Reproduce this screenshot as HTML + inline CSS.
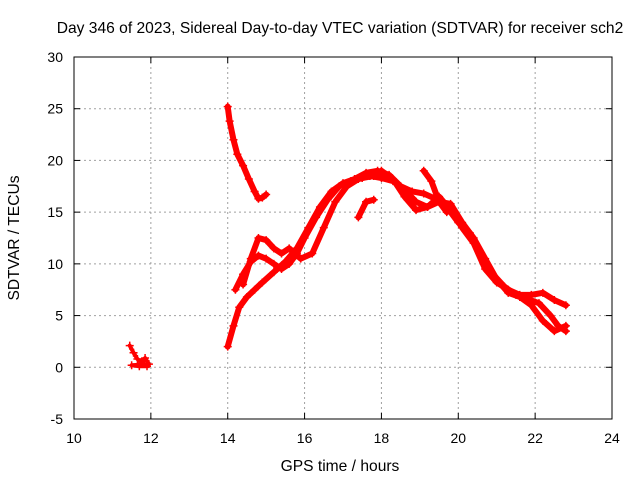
<!DOCTYPE html>
<html><head><meta charset="utf-8"><style>
body{margin:0;background:#fff;width:640px;height:480px;overflow:hidden}
svg{font-family:"Liberation Sans",sans-serif;font-size:14px}
</style></head><body>
<svg id="chart" width="640" height="480">
<text x="340" y="33" text-anchor="middle" style="font-size:15.6px">Day 346 of 2023, Sidereal Day-to-day VTEC variation (SDTVAR) for receiver sch2</text>
<text x="340" y="471" text-anchor="middle" style="font-size:15.6px">GPS time / hours</text>
<text transform="translate(19,238) rotate(-90)" text-anchor="middle" style="font-size:15.6px">SDTVAR / TECUs</text>
<g id="grid"></g><g id="ticks"></g><g id="marks"></g>
<rect x="74" y="57" width="538" height="362" fill="none" stroke="#000"/>
</svg>
<script>
const xTicks=[10,12,14,16,18,20,22,24];
const yTicks=[-5,0,5,10,15,20,25,30];
const track1X=[11.45,11.55,11.65,11.75,11.85,11.95,11.5,11.7,11.9];
const track1Y=[2.1,1.4,0.8,0.5,0.9,0.3,0.2,0.1,0.1];
const track2X=[14.0,14.05,14.15,14.25,14.4,14.55,14.7,14.8,14.9,15.0];
const track2Y=[25.2,23.8,22,20.6,19.5,18.2,17,16.3,16.4,16.7];
const track3X=[14.0,14.15,14.3,14.5,14.7,14.9,15.2,15.5,15.8,16.1,16.4,16.7,17.0,17.3,17.6,17.9,18.2,18.5,18.8,19.1,19.4,19.7,20.0,20.3,20.6,20.9,21.2,21.5,21.8,22.1,22.4,22.6,22.8];
const track3Y=[2,4,5.8,6.8,7.5,8.2,9.2,10.2,11.5,13.5,15.5,17,17.8,18.2,18.8,19,18.6,17.5,17,16.8,16.3,15.5,14,13,11,9,7.8,7,6.6,6.2,5,4,3.5];
const track4X=[14.2,14.4,14.6,14.8,15.0,15.2,15.4,15.6,15.8,16.0,16.3,16.6,16.9,17.2,17.5,17.8,18.0,18.3,18.6,18.9,19.2,19.5,19.8,20.1,20.4,20.7,21.0,21.3,21.6,21.9,22.2,22.5,22.8];
const track4Y=[7.5,9,10.2,10.8,10.5,10,9.5,10,11,12.5,14.5,16.2,17.5,18,18.3,18.5,19,18.2,16.5,15.2,15.5,16.5,15.2,13.5,12,9.5,8.2,7.5,7,7,7.2,6.5,6];
const track5X=[14.4,14.6,14.8,15.0,15.2,15.4,15.6,15.9,16.2,16.5,16.8,17.1,17.4,17.7,18.0,18.3,18.6,18.9,19.2,19.5,19.8,20.1,20.4,20.7,21.0,21.3,21.6,21.9,22.2,22.5,22.8];
const track5Y=[8,10.5,12.5,12.3,11.5,11,11.5,10.5,11,13.5,16,17.5,18.2,18.5,18.3,18,17.2,16,15.5,16,15.8,14,12.5,10.5,8.5,7.2,6.8,6,4.5,3.5,4];
const track6X=[17.4,17.6,17.8];
const track6Y=[14.5,16,16.2];
const track7X=[19.1,19.3,19.5,19.7];
const track7Y=[19,18,16,15];
const tracks=[[track1X,track1Y],[track2X,track2Y],[track3X,track3Y],[track4X,track4Y],[track5X,track5Y],[track6X,track6Y],[track7X,track7Y]];
const L=74,R=612,T=57,B=419;
const sx=v=>L+(v-10)/14*(R-L), sy=v=>B-(v+5)/35*(B-T);
const NS="http://www.w3.org/2000/svg";
const g=document.getElementById('grid'),tk=document.getElementById('ticks'),mk=document.getElementById('marks');
function mkEl(t,a,p){const e=document.createElementNS(NS,t);for(const k in a)e.setAttribute(k,a[k]);p.appendChild(e);return e;}
xTicks.forEach(v=>{const x=sx(v);
 if(v>10&&v<24){const l=mkEl('line',{x1:x,x2:x,y1:T,y2:B,stroke:'#a0a0a0','stroke-dasharray':'2,3'},g);
 
 }
 mkEl('line',{x1:x,x2:x,y1:B,y2:B-6,stroke:'#000'},tk);mkEl('line',{x1:x,x2:x,y1:T,y2:T+6,stroke:'#000'},tk);
 const t=mkEl('text',{x:x,y:B+24,'text-anchor':'middle'},tk);t.textContent=v;
 
 });
yTicks.forEach(v=>{const y=sy(v);
 if(v>-5&&v<30){const l=mkEl('line',{x1:L,x2:R,y1:y,y2:y,stroke:'#a0a0a0','stroke-dasharray':'2,3'},g);
 
 }
 mkEl('line',{x1:L,x2:L+6,y1:y,y2:y,stroke:'#000'},tk);mkEl('line',{x1:R,x2:R-6,y1:y,y2:y,stroke:'#000'},tk);
 const t=mkEl('text',{x:L-11,y:y+5,'text-anchor':'end'},tk);t.textContent=v;
 
 });
tracks.forEach(([xs,ys],i)=>{
 const pts=xs.map((x,j)=>sx(x)+','+sy(ys[j])).join(' ');
 const pl=mkEl('polyline',{points:pts,fill:'none',stroke:'#ff0000','stroke-width':i===0?4:6,'stroke-linejoin':'round','stroke-linecap':'round'},mk);
 
 
 xs.forEach((x,j)=>{const px=sx(x),py=sy(ys[j]);
  const p=mkEl('path',{d:`M${px-4},${py}h8M${px},${py-4}v8`,stroke:'#ff0000','stroke-width':1.5},mk);
  
  });
});
</script>
</body></html>
